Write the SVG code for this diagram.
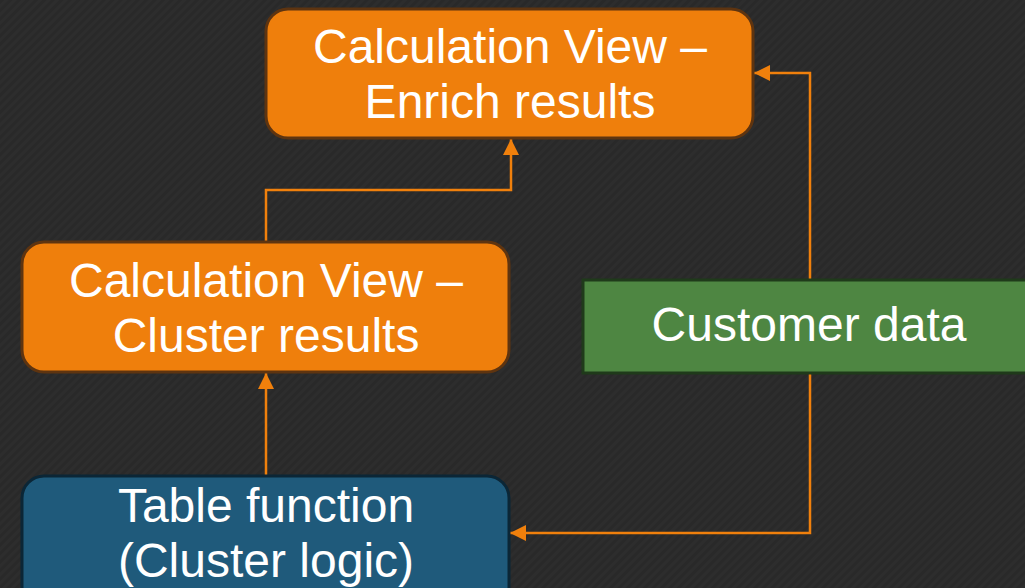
<svg xmlns="http://www.w3.org/2000/svg" width="1025" height="588" viewBox="0 0 1025 588">
<defs>
<pattern id="bgp" width="6" height="6" patternUnits="userSpaceOnUse" patternTransform="rotate(45)">
<rect width="6" height="6" fill="#2d2d2d"/>
<rect width="3" height="6" fill="#292929"/>
</pattern>
<marker id="ah" markerWidth="16" markerHeight="16" refX="16" refY="8" orient="auto" markerUnits="userSpaceOnUse">
<path d="M0,0 L16,8 L0,16 Z" fill="#f0800c"/>
</marker>
<style>
.orange{fill:#ef7f0c;stroke:#5e3410;stroke-width:3}
.green{fill:#4e8642;stroke:#1f3a1a;stroke-width:3}
.blue{fill:#1f5a7b;stroke:#0b2636;stroke-width:3}
.lbl{font-family:"Liberation Sans",Arial,sans-serif;font-size:48px;fill:#ffffff;text-anchor:middle}
.conn{fill:none;stroke:#f0800c;stroke-width:2.5}
</style>
</defs>
<rect width="1025" height="588" fill="url(#bgp)"/>
<g id="connectors">
<path class="conn" d="M266,242 V190 H511 V139" marker-end="url(#ah)"/>
<path class="conn" d="M810,280 V73 H754" marker-end="url(#ah)"/>
<path class="conn" d="M810,373 V533 H510" marker-end="url(#ah)"/>
<path class="conn" d="M266,476 V373" marker-end="url(#ah)"/>
</g>
<g id="enrich">
<rect class="orange" x="266" y="9" width="487" height="129" rx="22"/>
<text class="lbl" x="510" y="63">Calculation View –</text>
<text class="lbl" x="510" y="118">Enrich results</text>
</g>
<g id="cluster">
<rect class="orange" x="22" y="242" width="487" height="130" rx="22"/>
<text class="lbl" x="266" y="297">Calculation View –</text>
<text class="lbl" x="266" y="352">Cluster results</text>
</g>
<g id="customer">
<rect class="green" x="583" y="280" width="460" height="93"/>
<text class="lbl" x="809" y="341">Customer data</text>
</g>
<g id="tablefn">
<rect class="blue" x="22" y="476" width="487" height="135" rx="22"/>
<text class="lbl" x="266" y="522">Table function</text>
<text class="lbl" x="266" y="577">(Cluster logic)</text>
</g>
</svg>
